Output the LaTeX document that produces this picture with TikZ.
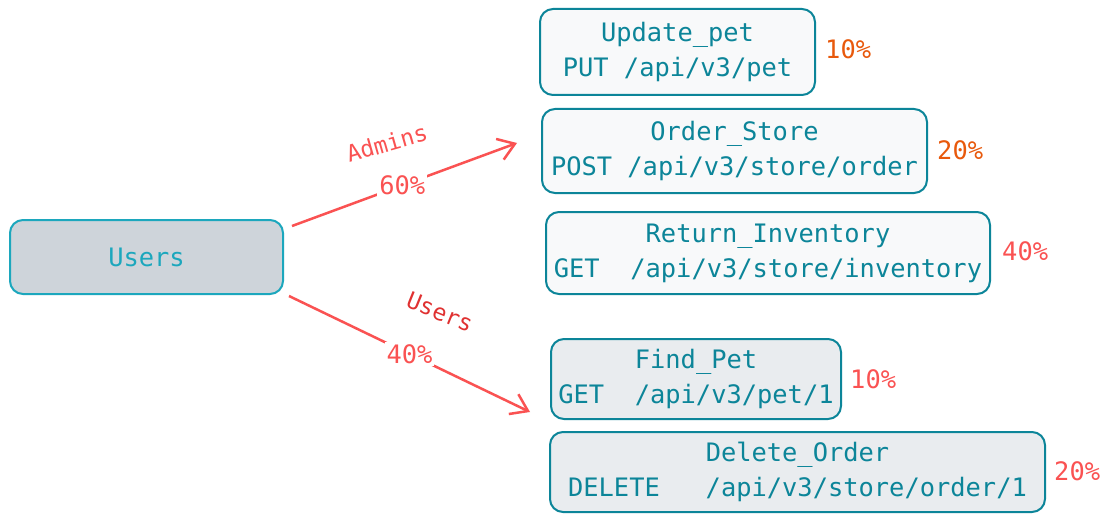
\documentclass[tikz,border=0pt]{standalone}
\usepackage{fontspec}
\setmainfont{DejaVu Sans Mono}
\newfontfamily\hand{DejaVu Sans Mono}
\usetikzlibrary{arrows.meta}
\definecolor{tealc}{HTML}{0C8599}
\definecolor{cyanc}{HTML}{1CA7BD}
\definecolor{grayf}{HTML}{CED4DA}
\definecolor{lightf}{HTML}{F8F9FA}
\definecolor{midf}{HTML}{E9ECEF}
\definecolor{redc}{HTML}{FA5252}
\definecolor{darkred}{HTML}{E03131}
\definecolor{orangec}{HTML}{E8590C}
\tikzset{
  box/.style={draw=tealc, line width=2pt, rounded corners=13pt, inner sep=0pt,
    text=tealc, align=center, font=\fontsize{25.4}{35}\selectfont},
  pct/.style={font=\fontsize{25.4}{30}\selectfont, inner sep=0pt},
  flow/.style={draw=redc, line width=2.5pt, -{Straight Barb[length=16pt,width=22pt,line width=2.5pt]}},
  onlab/.style={fill=white, text=redc, font=\fontsize{25.4}{30}\selectfont, inner sep=2pt},
  edlab/.style={font=\hand\fontsize{23}{28}\selectfont, inner sep=0pt}
}
\begin{document}
\begin{tikzpicture}[x=1pt,y=-1pt]
\useasboundingbox[fill=white] (0,0) rectangle (1111,524);
% source
\node[box, draw=cyanc, fill=grayf, text=cyanc, minimum width=273pt, minimum height=74pt] (users) at (146.5,257) {Users};
% targets
\node[box, fill=lightf, minimum width=275pt, minimum height=86pt] (upd) at (677.5,52) {Update\_pet\\PUT /api/v3/pet};
\node[box, fill=lightf, minimum width=385pt, minimum height=84pt] (ord) at (734.5,151) {Order\_Store\\POST /api/v3/store/order};
\node[box, fill=lightf, minimum width=444pt, minimum height=82pt] (inv) at (768,253) {Return\_Inventory\\GET\ \ /api/v3/store/inventory};
\node[box, fill=midf, minimum width=290pt, minimum height=80pt] (find) at (696,379) {Find\_Pet\\GET\ \ /api/v3/pet/1};
\node[box, fill=midf, minimum width=495pt, minimum height=80pt] (del) at (797.5,472) {Delete\_Order\\DELETE\ \ \ /api/v3/store/order/1};
% percentages
\node[pct, text=orangec, anchor=west] (p1) at (825,49) {10\%};
\node[pct, text=orangec, anchor=west] (p2) at (937,150) {20\%};
\node[pct, text=redc, anchor=west] (p3) at (1002,251) {40\%};
\node[pct, text=redc, anchor=west] (p4) at (850,379) {10\%};
\node[pct, text=redc, anchor=west] (p5) at (1054,471) {20\%};
% connectors
\coordinate (a1) at (292,226);
\coordinate (a2) at (517,143);
\coordinate (b1) at (289,296);
\coordinate (b2) at (530,412);
\draw[flow] (a1) -- node[onlab, pos=0.49] (l60) {60\%} (a2);
\draw[flow] (b1) -- node[onlab, pos=0.5] (l40) {40\%} (b2);
\node[edlab, text=redc, rotate=16] (adm) at (387,143) {Admins};
\node[edlab, text=darkred, rotate=-22] (usl) at (440,312) {Users};
\end{tikzpicture}
\end{document}
